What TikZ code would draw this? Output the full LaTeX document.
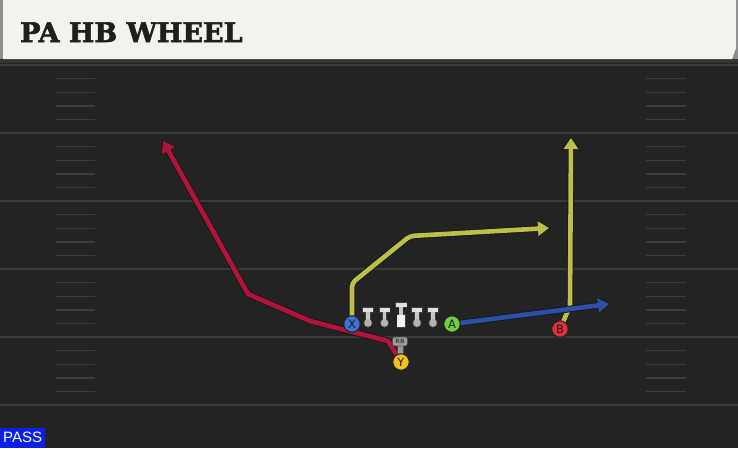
\documentclass[tikz,border=0pt]{standalone}
\usepackage{fontspec}
\setmainfont{DejaVu Sans}
\newfontfamily\titlefont[BoldFeatures={FakeBold=2.2}]{DejaVu Serif}
\newfontfamily\passfont{Liberation Sans}
\usetikzlibrary{arrows.meta}
\pgfdeclarelayer{fieldlayer}
\pgfdeclarelayer{routelayer}
\pgfsetlayers{fieldlayer,routelayer,main}
\definecolor{fieldbg}{HTML}{232323}
\definecolor{yardline}{HTML}{3A3A3A}
\definecolor{hashc}{HTML}{3B3B3B}
\definecolor{titlebg}{HTML}{F4F2EC}
\definecolor{titletext}{HTML}{1E1E1E}
\definecolor{routered}{HTML}{B2133A}
\definecolor{routeyellow}{HTML}{BEBF4B}
\definecolor{routeblue}{HTML}{2C50A8}
\definecolor{xblue}{HTML}{3E72D8}
\definecolor{agreen}{HTML}{6CD23C}
\definecolor{bred}{HTML}{E0303E}
\definecolor{yyellow}{HTML}{F1C31C}
\definecolor{passblue}{HTML}{0C20E6}
\tikzset{
  player/.style={circle, minimum size=16.5pt, inner sep=0pt, draw=black!85, line width=1.1pt,
    text=black!90, font=\fontsize{11.5}{11.5}\selectfont},
  routeout/.style={line width=6.6pt, draw=black!90, line join=round, line cap=round},
  routein/.style={line width=4.6pt, draw=#1, line join=round, line cap=round},
  tipout/.style={-{Triangle[length=13pt,width=17pt]}, shorten >=-1.5pt},
  tipin/.style={-{Triangle[length=11pt,width=14pt]}},
  hash/.style={line width=1.4pt, draw=hashc},
  yard/.style={line width=2pt, draw=yardline},
  rbtag/.style={rounded corners=2.5pt, fill=black!38, draw=black!70, line width=0.6pt,
    minimum width=15pt, minimum height=9pt, inner sep=0pt, text=black!75,
    font=\fontsize{6}{6}\selectfont\bfseries},
  lineman/.pic={
    \fill[black!75] (-5.8,-15.8) rectangle (5.8,-10.2);
    \fill[black!75] (0,0) circle (4.6);
    \fill[black!75] (-2.6,-11) rectangle (2.6,-2);
    \fill[black!22] (-1.8,-11) rectangle (1.8,-1);
    \fill[black!12] (-5,-15) rectangle (5,-11);
    \fill[black!30] (0,0) circle (3.8);
  },
  centerman/.pic={
    \fill[black!75] (-6.3,-20.8) rectangle (6.3,-15.2);
    \fill[black!75] (-4.5,-8.8) rectangle (4.5,4.8);
    \fill[black!22] (-1.8,-16) rectangle (1.8,-8);
    \fill[black!12] (-5.5,-20) rectangle (5.5,-16);
    \fill[white!95!black] (-3.7,-8) rectangle (3.7,4);
  }
}
\begin{document}
\begin{tikzpicture}[x=1pt,y=-1pt]
\useasboundingbox (0,0) rectangle (738,448);
\begin{pgfonlayer}{fieldlayer}
  \fill[fieldbg] (0,0) rectangle (738,448);
  % title bar
  \fill[black!80] (0,58) rectangle (738,63);
  \fill[black!45] (0,0) rectangle (738,59);
  \fill[titlebg] (3,0) -- (736,0) -- (736,48) -- (732,59) -- (3,59) -- cycle;
  % yard lines
  \foreach \yy in {65,133,201,269,337,405}
    \draw[yard] (0,\yy) -- (738,\yy);
  % hash marks
  \foreach \yy in {65,133,201,269,337}
    \foreach \k in {1,2,3,4} {
      \draw[hash] (56,\yy+\k*13.6) -- (95,\yy+\k*13.6);
      \draw[hash] (646,\yy+\k*13.6) -- (686,\yy+\k*13.6);
    }
\end{pgfonlayer}

\node[anchor=base west, text=titletext, inner sep=0pt,
  font=\titlefont\bfseries\fontsize{27}{27}\selectfont] (title) at (20,42) {PA HB WHEEL};

% PASS label
\node[anchor=south west, fill=passblue, text=white, inner sep=0pt,
  minimum width=45pt, minimum height=20pt,
  font=\passfont\fontsize{15}{15}\selectfont] (pass) at (0,448) {PASS};

% linemen
\pic at (368,323) {lineman};
\pic at (384.5,323) {lineman};
\pic at (401,323) {centerman};
\pic at (417,323) {lineman};
\pic at (433,323) {lineman};

% players
\node[player, fill=xblue] (X) at (352,324) {X};
\node[player, fill=agreen] (A) at (452,324) {A};
\node[player, fill=bred] (B) at (560,329) {B};
\fill[black!40, draw=black!70, line width=0.5pt] (397.5,345) rectangle (403.5,354);
\node[rbtag] (RB) at (400,341.5) {RB};
\node[player, fill=yyellow] (Y) at (401,362) {Y};

% route waypoints
\coordinate (r1) at (388,341);
\coordinate (r2) at (310,321);
\coordinate (r3) at (248,294);
\coordinate (rT) at (163,141);
\coordinate (x1) at (352,283);
\coordinate (x2) at (410,236);
\coordinate (xT) at (549,228);
\coordinate (b1) at (570,306);
\coordinate (bT) at (571,138);
\coordinate (aT) at (609,304);

\begin{pgfonlayer}{routelayer}
  % red (Y)
  \draw[routeout, tipout] (Y.center) -- (r1) -- (r2) -- (r3) -- (rT);
  \draw[routein=routered, tipin] (Y.center) -- (r1) -- (r2) -- (r3) -- (rT);
  % yellow (X)
  \draw[routeout, tipout, rounded corners=4pt] (X.center) -- (x1) -- (x2) -- (xT);
  \draw[routein=routeyellow, tipin, rounded corners=4pt] (X.center) -- (x1) -- (x2) -- (xT);
  % yellow (B)
  \draw[routeout, tipout] (B.center) -- (b1) -- (bT);
  \draw[routein=routeyellow, tipin] (B.center) -- (b1) -- (bT);
  % blue (A)
  \draw[routeout, tipout] (A.center) -- (aT);
  \draw[routein=routeblue, tipin] (A.center) -- (aT);
\end{pgfonlayer}
\end{tikzpicture}
\end{document}
